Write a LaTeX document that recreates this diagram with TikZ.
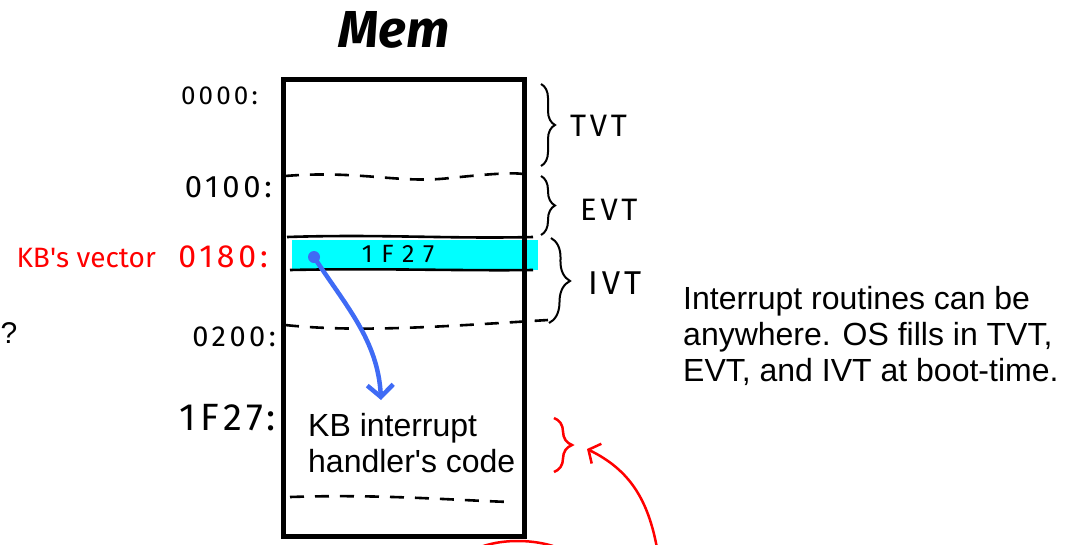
\documentclass[tikz,border=0pt]{standalone}
\usepackage{fontspec}
\setmainfont{Liberation Sans}
\newfontfamily\handfont{Fira Sans}[LetterSpace=12]
\newfontfamily\titlefont{Fira Sans}
\usetikzlibrary{arrows.meta,decorations.pathreplacing,calc}
\definecolor{ink}{HTML}{000000}
\definecolor{pen}{HTML}{FF0000}
\definecolor{marker}{HTML}{00FFFF}
\definecolor{link}{HTML}{3F6BF5}
\tikzset{
  membox/.style={draw=ink, line width=5pt},
  divider/.style={draw=ink, line width=2.6pt, dash pattern=on 14pt off 11pt},
  edge/.style={draw=ink, line width=2.6pt},
  band/.style={fill=marker, draw=none},
  span/.style={draw=ink, line width=2pt, decorate, decoration={brace, amplitude=#1}},
  span/.default=14pt,
  redspan/.style={span=#1, draw=pen, line width=2.5pt},
  redspan/.default=18pt,
  pointer/.style={draw=link, line width=4.5pt, line cap=round, -{Straight Barb[length=12pt,width=26pt]}},
  redpointer/.style={draw=pen, line width=2.5pt, line cap=round, -{Straight Barb[length=9pt,width=22pt]}},
  addr/.style={inner sep=0pt, anchor=base east, font=\handfont\fontsize{#1}{#1}\selectfont, text=ink},
  addr/.default=26,
  tag/.style={inner sep=0pt, anchor=base west, font=\handfont\fontsize{#1}{#1}\selectfont, text=ink},
  tag/.default=30,
  note/.style={inner sep=0pt, anchor=base west, align=left, font=\fontsize{32}{36}\selectfont, text=ink},
  title/.style={inner sep=0pt, font=\titlefont\bfseries\itshape\fontsize{52}{56}\selectfont, text=ink},
}
\begin{document}
\begin{tikzpicture}[x=1pt, y=-1pt]
  \useasboundingbox (0,0) rectangle (1078,544);
  \clip (0,0) rectangle (1078,544);

  \node[title] (mem) at (394,30) {Mem};

  % highlighted vector entry
  \fill[band] (292,240) rectangle (538,270);
  \draw[edge] (287,237) .. controls (380,234) and (450,239) .. (533,237);
  \draw[edge] (290,270) .. controls (380,268) and (460,271) .. (533,270);
  \node[inner sep=0pt, font=\handfont\addfontfeature{LetterSpace=35}\fontsize{25}{25}\selectfont] (entry) at (398,254) {1F27};

  \draw[membox] (283,79) rectangle (524,536);
  \draw[divider] (285,176) .. controls (360,170) and (400,184) .. (450,178) .. controls (480,175) and (510,172) .. (523,174);
  \draw[divider] (285,325) .. controls (360,333) and (450,326) .. (548,320);
  \draw[divider] (290,497) .. controls (380,494) and (450,500) .. (510,502);

  \node[addr=26] (a0000) at (258,104) {0000:};
  \node[addr=31] (a0100) at (272,197) {0100:};
  \node[addr=32, text=pen] (a0180) at (268,267) {0180:};
  \node[addr=29] (a0200) at (276,346) {0200:};
  \node[addr=38] (a1F27) at (276,430) {1F27:};
  \node[addr=26, text=pen, font=\handfont\addfontfeature{LetterSpace=0}\fontsize{28}{28}\selectfont] (kbvec) at (156,267) {KB\textquotesingle s vector};
  \node[inner sep=0pt, font=\fontsize{30}{30}\selectfont] (query) at (9,333) {?};

  % table spans
  \coordinate (tvtTop) at (541,84); \coordinate (tvtBot) at (541,166);
  \coordinate (evtTop) at (541,176); \coordinate (evtBot) at (541,235);
  \coordinate (ivtTop) at (551,238); \coordinate (ivtBot) at (549,323);
  \draw[span] (tvtTop) -- (tvtBot);
  \draw[span] (evtTop) -- (evtBot);
  \draw[span=20pt] (ivtTop) -- (ivtBot);
  \node[tag=31] (tvt) at (570,136) {TVT};
  \node[tag=31] (evt) at (580,220) {EVT};
  \node[tag=33] (ivt) at (588,294) {IVT};

  % pointer from the vector to the handler
  \node[circle, fill=link, inner sep=0pt, minimum size=12pt] (vecdot) at (314,257) {};
  \coordinate (handtip) at (381,400);
  \draw[pointer] (vecdot.center) .. controls (345,305) and (378,340) .. (handtip);

  \node[note] (handler) at (308,472) {KB interrupt\\handler\textquotesingle s code};
  \node[note] (remark) at (683,381) {Interrupt routines can be\\anywhere. OS fills in TVT,\\EVT, and IVT at boot-time.};

  % red markup
  \coordinate (redTop) at (554,418); \coordinate (redBot) at (554,472);
  \draw[redspan] (redTop) -- (redBot);
  \coordinate (redtip) at (587,449);
  \coordinate (redtail) at (657,548);
  \draw[redpointer] (redtail) .. controls (648,500) and (630,470) .. (redtip);
  \draw[draw=pen, line width=2.5pt] (478,548) .. controls (500,539) and (530,539) .. (553,546);
\end{tikzpicture}
\end{document}
